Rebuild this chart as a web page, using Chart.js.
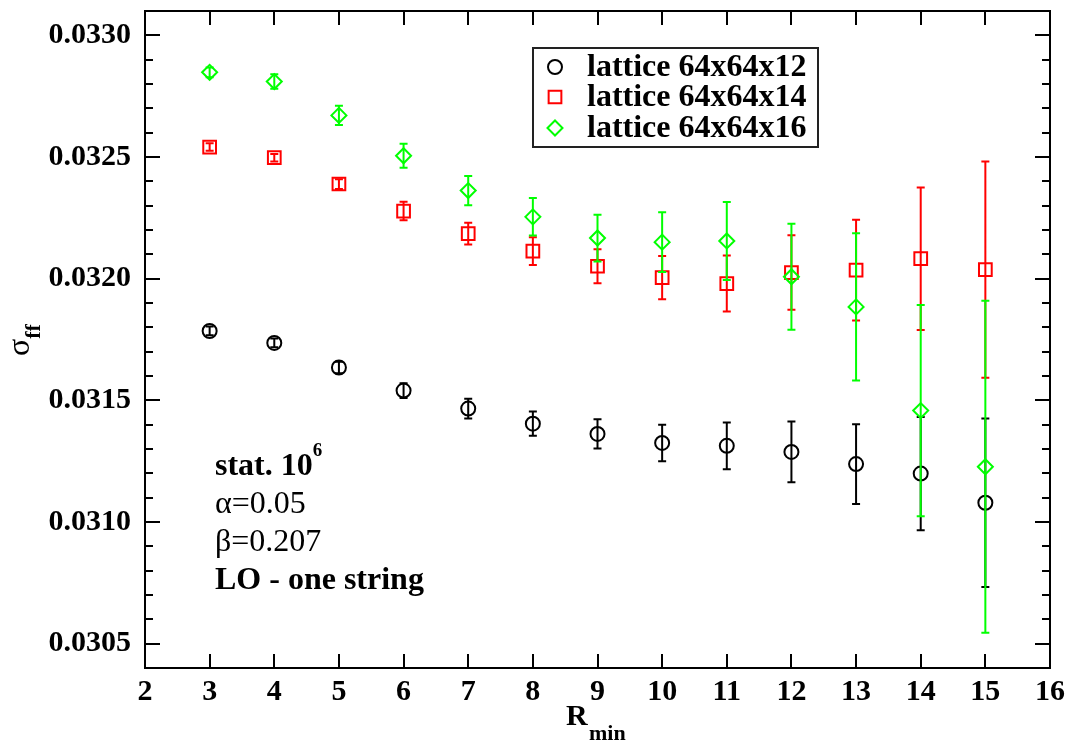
<!DOCTYPE html>
<html>
<head>
<meta charset="utf-8">
<title>sigma_ff vs R_min</title>
<script src="https://cdn.jsdelivr.net/npm/chart.js@4.4.1/dist/chart.umd.min.js"></script>
<style>
  body { margin: 0; background: #fff; }
  #wrap { width: 1074px; height: 742px; }
</style>
</head>
<body>
<div id="wrap"><canvas id="sigma" width="1074" height="742"></canvas></div>
<script>
// fit results for the string tension, one entry per R_min
var rMin = [3, 4, 5, 6, 7, 8, 9, 10, 11, 12, 13, 14, 15];

var sigma12 = [0.031785, 0.031736, 0.031635, 0.031540, 0.031466, 0.031404, 0.031362,
               0.031325, 0.031313, 0.031288, 0.031238, 0.031199, 0.031079];
var err12   = [0.000018, 0.000018, 0.000024, 0.000030, 0.000041, 0.000050, 0.000060,
               0.000075, 0.000096, 0.000125, 0.000164, 0.000233, 0.000346];

var sigma14 = [0.032541, 0.032497, 0.032389, 0.032278, 0.032185, 0.032113, 0.032051,
               0.032004, 0.031980, 0.032025, 0.032035, 0.032082, 0.032037];
var err14   = [0.000015, 0.000015, 0.000020, 0.000038, 0.000045, 0.000057, 0.000070,
               0.000089, 0.000115, 0.000153, 0.000207, 0.000293, 0.000444];

var sigma16 = [0.032848, 0.032810, 0.032671, 0.032505, 0.032362, 0.032254, 0.032167,
               0.032150, 0.032155, 0.032008, 0.031884, 0.031458, 0.031227];
var err16   = [0.000020, 0.000030, 0.000040, 0.000049, 0.000060, 0.000077, 0.000096,
               0.000123, 0.000160, 0.000218, 0.000303, 0.000434, 0.000682];

var seriesNames = ['lattice 64x64x12', 'lattice 64x64x14', 'lattice 64x64x16'];

var xTicks = [2, 3, 4, 5, 6, 7, 8, 9, 10, 11, 12, 13, 14, 15, 16];
var yMajor = [0.0305, 0.0310, 0.0315, 0.0320, 0.0325, 0.0330];
var yMinor = [];
for (var k = 304; k <= 331; k++) {
    if (k % 5 !== 0) yMinor.push(k / 10000);
}

var SERIF = '"Liberation Serif", "Times New Roman", serif';

function points(ys) {
    var out = [];
    for (var i = 0; i < rMin.length; i++) out.push({x: rMin[i], y: ys[i]});
    return out;
}

// frame, inward ticks on all four sides (xmgrace style)
var framePlugin = {
    id: 'frame',
    afterDraw: function (chart) {
        var ctx = chart.ctx, a = chart.chartArea;
        var xs = chart.scales.x, ys = chart.scales.y;
        ctx.save();
        ctx.strokeStyle = '#000';
        ctx.lineWidth = 2;
        ctx.beginPath();
        xTicks.forEach(function (v) {
            var px = Math.round(xs.getPixelForValue(v));
            ctx.moveTo(px, a.bottom); ctx.lineTo(px, a.bottom - 14);
            ctx.moveTo(px, a.top); ctx.lineTo(px, a.top + 14);
        });
        yMajor.forEach(function (v) {
            var py = Math.round(ys.getPixelForValue(v));
            ctx.moveTo(a.left, py); ctx.lineTo(a.left + 15, py);
            ctx.moveTo(a.right, py); ctx.lineTo(a.right - 15, py);
        });
        yMinor.forEach(function (v) {
            var py = Math.round(ys.getPixelForValue(v));
            ctx.moveTo(a.left, py); ctx.lineTo(a.left + 8, py);
            ctx.moveTo(a.right, py); ctx.lineTo(a.right - 8, py);
        });
        ctx.stroke();
        ctx.strokeRect(a.left, a.top, a.right - a.left, a.bottom - a.top);
        ctx.restore();
    }
};

// vertical error bars with small caps, drawn with each dataset
var errorBarPlugin = {
    id: 'errorBars',
    afterDatasetDraw: function (chart, args) {
        var ds = chart.data.datasets[args.index];
        if (!ds.errors) return;
        var ctx = chart.ctx, xs = chart.scales.x, ys = chart.scales.y;
        ctx.save();
        ctx.strokeStyle = ds.borderColor;
        ctx.lineWidth = 2;
        ctx.beginPath();
        for (var i = 0; i < ds.data.length; i++) {
            var px = xs.getPixelForValue(ds.data[i].x);
            var top = ys.getPixelForValue(ds.data[i].y + ds.errors[i]);
            var bot = ys.getPixelForValue(ds.data[i].y - ds.errors[i]);
            ctx.moveTo(px, top); ctx.lineTo(px, bot);
            ctx.moveTo(px - 4, top); ctx.lineTo(px + 4, top);
            ctx.moveTo(px - 4, bot); ctx.lineTo(px + 4, bot);
        }
        ctx.stroke();
        ctx.restore();
    }
};

// legend box, run parameters and axis titles
var textPlugin = {
    id: 'texts',
    afterDraw: function (chart) {
        var ctx = chart.ctx;
        ctx.save();

        // legend
        ctx.fillStyle = '#fff';
        ctx.fillRect(533, 48, 285, 99);
        ctx.strokeStyle = '#222';
        ctx.lineWidth = 2;
        ctx.strokeRect(533, 48, 285, 99);
        var rows = [67, 97, 128];
        chart.data.datasets.forEach(function (ds, i) {
            ctx.strokeStyle = ds.borderColor;
            ctx.fillStyle = 'rgba(0,0,0,0)';
            ctx.lineWidth = 2;
            Chart.helpers.drawPoint(ctx, {
                pointStyle: ds.pointStyle, radius: ds.pointRadius,
                borderWidth: 2, rotation: 0
            }, 555, rows[i]);
            ctx.fillStyle = '#000';
            ctx.font = 'bold 32px ' + SERIF;
            ctx.textAlign = 'left';
            ctx.textBaseline = 'middle';
            ctx.fillText(ds.label, 587, rows[i] + 1);
        });

        // run parameters
        ctx.fillStyle = '#000';
        ctx.textBaseline = 'alphabetic';
        ctx.font = 'bold 32px ' + SERIF;
        ctx.fillText('stat. 10', 215, 475);
        var w = ctx.measureText('stat. 10').width;
        ctx.font = 'bold 19px ' + SERIF;
        ctx.fillText('6', 215 + w, 456);
        ctx.font = '32px ' + SERIF;
        ctx.fillText('\u03b1=0.05', 215, 513);
        ctx.fillText('\u03b2=0.207', 215, 551);
        ctx.font = 'bold 32px ' + SERIF;
        ctx.fillText('LO - one string', 215, 589);

        // x title: R_min
        ctx.font = 'bold 30px ' + SERIF;
        ctx.fillText('R', 566, 725);
        ctx.font = 'bold 22px ' + SERIF;
        ctx.fillText('min', 589, 740);

        // y title: sigma_ff, rotated
        ctx.translate(29, 356);
        ctx.rotate(-Math.PI / 2);
        ctx.font = '32px ' + SERIF;
        ctx.fillText('\u03c3', 0, 0);
        var sw = ctx.measureText('\u03c3').width;
        ctx.font = 'bold 22px ' + SERIF;
        ctx.fillText('ff', sw, 11);
        ctx.restore();
    }
};

var tickFont = {family: SERIF, size: 30, weight: 'bold'};

new Chart(document.getElementById('sigma'), {
    type: 'scatter',
    data: {
        datasets: [{
            label: seriesNames[0],
            data: points(sigma12),
            errors: err12,
            borderColor: '#000000',
            backgroundColor: 'rgba(0,0,0,0)',
            pointStyle: 'circle',
            pointRadius: 7,
            pointBorderWidth: 2,
            order: 3
        }, {
            label: seriesNames[1],
            data: points(sigma14),
            errors: err14,
            borderColor: '#ff0000',
            backgroundColor: 'rgba(0,0,0,0)',
            pointStyle: 'rect',
            pointRadius: 9,
            pointBorderWidth: 2,
            order: 2
        }, {
            label: seriesNames[2],
            data: points(sigma16),
            errors: err16,
            borderColor: '#00ff00',
            backgroundColor: 'rgba(0,0,0,0)',
            pointStyle: 'rectRot',
            pointRadius: 7.5,
            pointBorderWidth: 2,
            order: 1
        }]
    },
    options: {
        responsive: false,
        animation: false,
        layout: {padding: {left: 0, top: 9, right: 24, bottom: 0}},
        plugins: {
            legend: {display: false},
            tooltip: {enabled: false}
        },
        scales: {
            x: {
                type: 'linear',
                min: 2,
                max: 16,
                grid: {display: false, drawTicks: false},
                border: {display: false},
                ticks: {font: tickFont, color: '#000', padding: 6, maxRotation: 0},
                afterBuildTicks: function (scale) {
                    scale.ticks = xTicks.map(function (v) { return {value: v}; });
                },
                afterFit: function (scale) {
                    scale.height = 74;
                    scale.paddingLeft = 0;
                    scale.paddingRight = 0;
                }
            },
            y: {
                type: 'linear',
                min: 0.0304,
                max: 0.0331,
                grid: {display: false, drawTicks: false},
                border: {display: false},
                ticks: {
                    font: tickFont, color: '#000', padding: 14,
                    callback: function (v) { return v.toFixed(4); }
                },
                afterBuildTicks: function (scale) {
                    scale.ticks = yMajor.map(function (v) { return {value: v}; });
                },
                afterFit: function (scale) {
                    scale.width = 145;
                    scale.paddingTop = 0;
                    scale.paddingBottom = 0;
                }
            }
        }
    },
    plugins: [errorBarPlugin, framePlugin, textPlugin]
});
</script>
</body>
</html>
